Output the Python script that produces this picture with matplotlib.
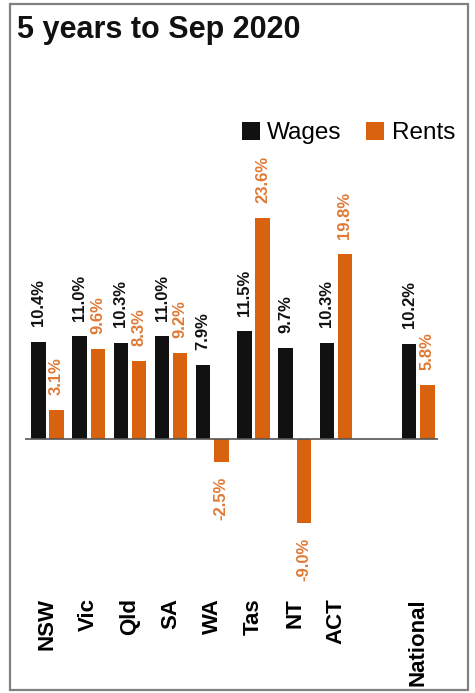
import matplotlib
matplotlib.use("Agg")
import matplotlib.pyplot as plt
from matplotlib.patches import Patch, Rectangle

plt.rcParams["font.family"] = ["Liberation Sans", "DejaVu Sans"]

# Growth over the 5 years to Sep 2020 (%)
regions = ["NSW", "Vic", "Qld", "SA", "WA", "Tas", "NT", "ACT", "National"]
positions = [0, 1, 2, 3, 4, 5, 6, 7, 9]
wages = [10.4, 11.0, 10.3, 11.0, 7.9, 11.5, 9.7, 10.3, 10.2]
rents = [3.1, 9.6, 8.3, 9.2, -2.5, 23.6, -9.0, 19.8, 5.8]

BLACK = "#111111"
ORANGE = "#D9620F"
ORANGE_TEXT = "#E07A35"

W, H = 475, 693
fig = plt.figure(figsize=(W / 100, H / 100), dpi=100)
fig.patch.set_facecolor("white")

ax = fig.add_axes([25 / W, 1 - 595 / H, 413 / W, 445 / H])
bw = 0.35
off = 0.22
wx = [p - off for p in positions]
rx = [p + off for p in positions]
ax.bar(wx, wages, width=bw, color=BLACK, zorder=2)
ax.bar(rx, rents, width=bw, color=ORANGE, zorder=2)
ax.axhline(0, color="#555555", lw=1.2, zorder=3)

ax.set_xlim(-0.546, 9.478)
ax.set_ylim(-16.67, 30.9)
ax.set_yticks([])
ax.set_xticks(positions)
ax.set_xticklabels(regions, rotation=90, fontsize=16, fontweight="bold")
ax.tick_params(axis="x", length=0, pad=2.2)
for s in ax.spines.values():
    s.set_visible(False)

def pct(v):
    return f"{v:.1f}%"

LABEL_SIZE = 12
for x, v in zip(wx, wages):
    ax.annotate(pct(v), (x, v), xytext=(0, 11), textcoords="offset points",
                rotation=90, ha="center", va="bottom", fontsize=LABEL_SIZE,
                fontweight="bold", color=BLACK)
for x, v in zip(rx, rents):
    if v >= 0:
        ax.annotate(pct(v), (x, v), xytext=(0, 11), textcoords="offset points",
                    rotation=90, ha="center", va="bottom", fontsize=LABEL_SIZE,
                    fontweight="bold", color=ORANGE_TEXT)
    else:
        ax.annotate(pct(v), (x, v), xytext=(0, -10.5), textcoords="offset points",
                    rotation=90, ha="center", va="top", fontsize=LABEL_SIZE,
                    fontweight="bold", color=ORANGE_TEXT)

fig.text(17 / W, 1 - 38 / H, "5 years to Sep 2020", fontsize=22,
         fontweight="bold", ha="left", va="baseline", color="#111111")

handles = [Patch(facecolor=BLACK, edgecolor="none", label="Wages"),
           Patch(facecolor=ORANGE, edgecolor="none", label="Rents")]
fig.legend(handles=handles, loc="upper right", ncol=2, frameon=False,
           bbox_to_anchor=(455 / W, 1 - 122 / H), borderaxespad=0, borderpad=0,
           fontsize=17.5, handlelength=0.75, handleheight=0.75,
           handletextpad=0.3, columnspacing=1.0)

fig.patches.append(Rectangle((10 / W, 3 / H), 458 / W, 686 / H,
                             transform=fig.transFigure, fill=False,
                             edgecolor="#808080", lw=1.6))

fig.savefig("out.png", dpi=100)
